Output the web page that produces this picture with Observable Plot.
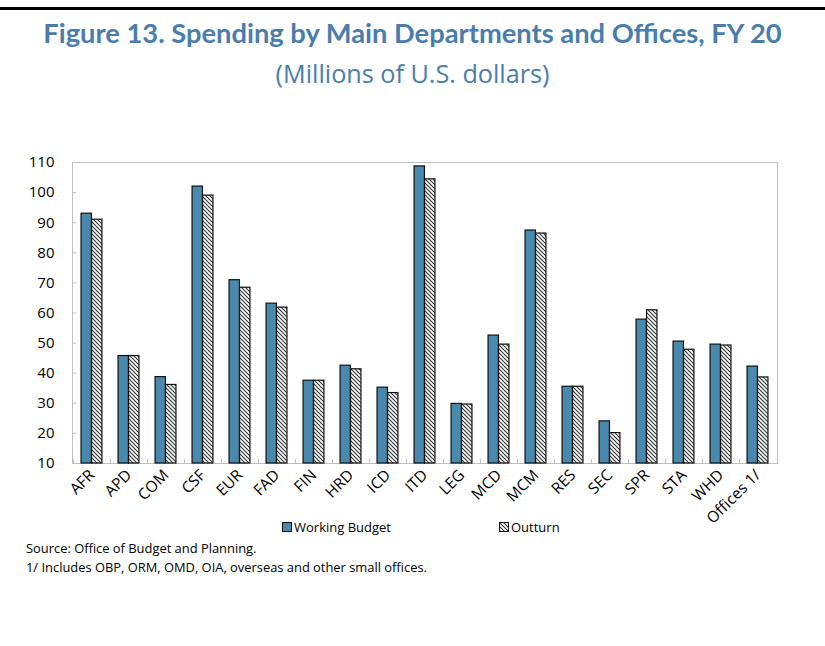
<!DOCTYPE html>
<html><head><meta charset="utf-8">
<script src="https://cdn.jsdelivr.net/npm/d3@7"></script>
<script src="https://cdn.jsdelivr.net/npm/@observablehq/plot@0.6"></script>
<style>
body{margin:0;background:#fff;}
#wrap{position:relative;width:825px;height:646px;overflow:hidden;background:#fff;}
.topline{position:absolute;left:0;top:7px;width:825px;height:3px;background:#000;}
.title{position:absolute;left:0;width:825px;text-align:center;top:17px;line-height:32px;font-family:Lato,sans-serif;font-weight:bold;font-size:27.3px;color:#4a7dac;white-space:nowrap;}
.subtitle{position:absolute;left:0;width:825px;text-align:center;top:57px;line-height:32px;font-family:"Open Sans",sans-serif;font-weight:400;font-size:25.2px;color:#4a7dac;}
#chart{position:absolute;left:0;top:130px;}
#chart g[aria-label="y-axis tick label"]{font-size:15px !important;}
#chart g[aria-label="x-axis tick label"]{font-size:15.5px !important;}
.legend{position:absolute;top:518px;font-family:"Open Sans",sans-serif;font-size:13px;color:#000;display:flex;align-items:center;line-height:18px;}
.legend svg{margin-right:2px;}
.note{position:absolute;left:26px;font-family:"Open Sans",sans-serif;font-size:12.9px;color:#000;line-height:18px;white-space:nowrap;}
</style>
</head><body>
<div id="wrap">
  <div class="topline"></div>
  <div class="title">Figure 13. Spending by Main Departments and Offices, FY 20</div>
  <div class="subtitle">(Millions of U.S. dollars)</div>
  <div id="chart"></div>
  <div class="legend" id="lg1" style="left:282px;"></div>
  <div class="legend" id="lg2" style="left:499px;"></div>
  <div class="note" style="top:539px;">Source: Office of Budget and Planning.</div>
  <div class="note" style="top:558px;">1/ Includes OBP, ORM, OMD, OIA, overseas and other small offices.</div>
</div>
<script>
const categories = ["AFR","APD","COM","CSF","EUR","FAD","FIN","HRD","ICD","ITD","LEG","MCD","MCM","RES","SEC","SPR","STA","WHD","Offices 1/"];
const workingBudget = [93.0,45.7,38.7,102.0,70.9,63.1,37.5,42.5,35.2,108.7,29.8,52.5,87.4,35.5,24.0,57.8,50.5,49.5,42.2];
const outturn = [91.0,45.7,36.1,99.0,68.4,61.8,37.5,41.3,33.4,104.4,29.6,49.5,86.4,35.5,20.1,60.9,47.8,49.2,38.6];
const yTicks = [10,20,30,40,50,60,70,80,90,100,110];
const seriesNames = ["Working Budget","Outturn"];

const W = 825, H = 400, mL = 72, mR = 48, mT = 32, mB = 67;
const plotW = W - mL - mR, plotH = H - mT - mB;
const band = plotW / categories.length;
const barW = 10.5;
const side = band / 2 - barW;

const wbData = categories.map((c, i) => ({cat: c, v: workingBudget[i]}));
const otData = categories.map((c, i) => ({cat: c, v: outturn[i]}));

const blue = "#4a89ae";

const chart = Plot.plot({
  width: W, height: H,
  marginLeft: mL, marginRight: mR, marginTop: mT, marginBottom: mB,
  style: {fontFamily: "'Open Sans', sans-serif", fontSize: "14px", color: "#000", background: "#fff"},
  x: {domain: categories, padding: 0},
  y: {domain: [10, 110]},
  marks: [
    Plot.frame({stroke: "#c0c0c0"}),
    Plot.tickY(yTicks, {y: d => d, stroke: "#c0c0c0", insetRight: plotW - 4}),
    Plot.tickX(categories, {x: d => d, dx: -band / 2, stroke: "#c0c0c0", insetTop: plotH - 4}),
    Plot.barY(wbData, {x: "cat", y1: 10, y2: "v", fill: blue, stroke: "#111", strokeWidth: 1.2, insetLeft: side, insetRight: band / 2}),
    Plot.barY(otData, {x: "cat", y1: 10, y2: "v", fill: "url(#hatch)", stroke: "#111", strokeWidth: 1.2, insetLeft: band / 2, insetRight: side}),
    Plot.axisY({ticks: yTicks, tickSize: 0, tickPadding: 18, tickFormat: d => d, label: null}),
    Plot.axisX({tickSize: 0, tickPadding: 9, tickRotate: -45, label: null})
  ]
});

// hatch pattern definition
const svgNS = "http://www.w3.org/2000/svg";
const defs = document.createElementNS(svgNS, "defs");
defs.innerHTML = `<pattern id="hatch" patternUnits="userSpaceOnUse" width="4" height="4">
  <rect width="4" height="4" fill="#fff"/>
  <path d="M-1,-1 L5,5 M-1,3 L1,5 M3,-1 L5,1" stroke="#333" stroke-width="1.1"/>
</pattern>`;
chart.insertBefore(defs, chart.firstChild);
document.getElementById("chart").appendChild(chart);

// legend
document.getElementById("lg1").innerHTML =
  `<svg width="10" height="10"><rect x="0.5" y="0.5" width="9" height="9" fill="${blue}" stroke="#111"/></svg><span>${seriesNames[0]}</span>`;
document.getElementById("lg2").innerHTML =
  `<svg width="10" height="10"><defs><pattern id="hatch2" patternUnits="userSpaceOnUse" width="4" height="4"><rect width="4" height="4" fill="#fff"/><path d="M-1,-1 L5,5 M-1,3 L1,5 M3,-1 L5,1" stroke="#333" stroke-width="1.1"/></pattern></defs><rect x="0.5" y="0.5" width="9" height="9" fill="url(#hatch2)" stroke="#111"/></svg><span>${seriesNames[1]}</span>`;
</script>
</body></html>
